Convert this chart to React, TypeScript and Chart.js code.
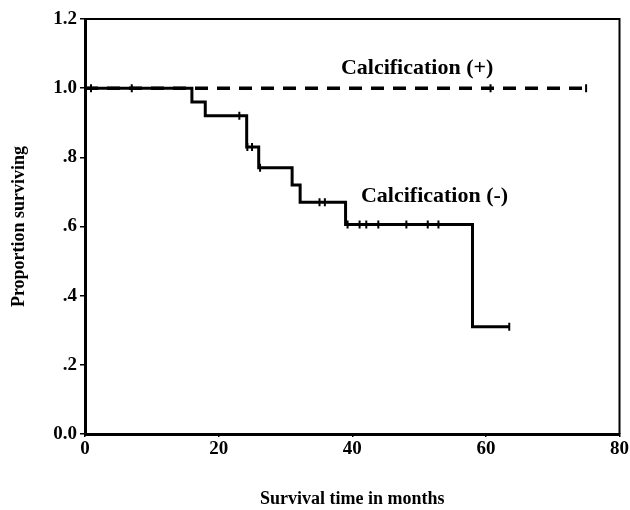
import React, { useEffect, useRef } from 'react';
import { Chart, registerables } from 'chart.js';

Chart.register(...registerables);

// Calcification (-) Kaplan-Meier steps (time in months, proportion surviving)
const negTimes = [0, 16, 18, 24.2, 26, 31, 32.2, 39, 58, 63.5];
const negSurv = [1.0, 0.96, 0.92, 0.83, 0.77, 0.72, 0.67, 0.606, 0.31, 0.31];
// Calcification (-) censored observations
const negCensorTimes = [0.9, 7, 23.1, 24.3, 25.0, 26.2, 35.1, 35.9, 39.3, 41.1, 42.1, 43.9, 48.1, 51.3, 52.9, 63.5];
const negCensorSurv = [1.0, 1.0, 0.92, 0.83, 0.83, 0.77, 0.67, 0.67, 0.606, 0.606, 0.606, 0.606, 0.606, 0.606, 0.606, 0.31];

// Calcification (+) curve
const posTimes = [0, 75];
const posSurv = [1.0, 1.0];
const posCensorTimes = [60.7, 75];
const posCensorSurv = [1.0, 1.0];

// Axis tick labels
const xTickLabels = ['0', '20', '40', '60', '80'];
const yTickLabels = ['0.0', '.2', '.4', '.6', '.8', '1.0', '1.2'];

// Curve labels and their anchors (data space)
const curveLabels = ['Calcification (+)', 'Calcification (-)'];
const curveLabelX = [38.3, 41.3];
const curveLabelY = [1.058, 0.688];

const FONT = '"Liberation Serif", "Times New Roman", serif';

const pts = (xs: number[], ys: number[]) => xs.map((x, i) => ({ x, y: ys[i] }));

const framePlugin = {
  id: 'frameAndLabels',
  afterDatasetsDraw(chart: any) {
    const { ctx, chartArea, scales } = chart;
    ctx.save();
    ctx.strokeStyle = '#000';
    ctx.lineWidth = 2;
    ctx.beginPath();
    ctx.moveTo(chartArea.left, chartArea.top);
    ctx.lineTo(chartArea.right, chartArea.top);
    ctx.lineTo(chartArea.right, chartArea.bottom);
    ctx.stroke();

    ctx.fillStyle = '#000';
    ctx.font = `bold 22px ${FONT}`;
    ctx.textAlign = 'left';
    ctx.textBaseline = 'middle';
    curveLabels.forEach((t, i) => {
      ctx.fillText(t, scales.x.getPixelForValue(curveLabelX[i]), scales.y.getPixelForValue(curveLabelY[i]));
    });
    ctx.restore();
  },
};

export default function App() {
  const ref = useRef<HTMLCanvasElement | null>(null);

  useEffect(() => {
    if (!ref.current) return;
    const censorStyle = {
      type: 'scatter' as const,
      showLine: false,
      pointStyle: 'line',
      rotation: 90,
      pointRadius: 4,
      pointBorderWidth: 2,
      borderColor: '#000',
      backgroundColor: '#000',
      pointBorderColor: '#000',
    };
    const chart = new Chart(ref.current, {
      type: 'line',
      data: {
        datasets: [
          {
            label: 'Calcification (+)',
            data: pts(posTimes, posSurv),
            stepped: 'before',
            borderColor: '#000',
            borderWidth: 3.5,
            borderDash: [13, 9],
            pointRadius: 0,
            fill: false,
            order: 3,
          },
          {
            label: 'Calcification (-)',
            data: pts(negTimes, negSurv),
            stepped: 'before',
            borderColor: '#000',
            borderWidth: 3,
            pointRadius: 0,
            fill: false,
            order: 2,
          },
          { label: 'censored (-)', data: pts(negCensorTimes, negCensorSurv), order: 1, ...censorStyle },
          { label: 'censored (+)', data: pts(posCensorTimes, posCensorSurv), order: 1, ...censorStyle },
        ] as any,
      },
      options: {
        animation: false,
        responsive: true,
        maintainAspectRatio: false,
        layout: { padding: { left: 0, right: 8, top: 19, bottom: 0 } },
        plugins: {
          legend: { display: false },
          tooltip: { enabled: false },
        },
        scales: {
          x: {
            type: 'linear',
            min: 0,
            max: 80,
            afterFit: (s: any) => { s.height = 76; },
            ticks: {
              stepSize: 20,
              color: '#000',
              font: { family: FONT, size: 19, weight: 'bold' },
              padding: 1,
              maxRotation: 0,
              callback: (_v: any, i: number) => xTickLabels[i],
            },
            grid: { drawOnChartArea: false, drawTicks: true, tickLength: 3, color: '#000', lineWidth: 1.5 },
            border: { color: '#000', width: 3 },
            title: {
              display: true,
              text: 'Survival time in months',
              color: '#000',
              font: { family: FONT, size: 18, weight: 'bold' },
              padding: { top: 0, bottom: 0 },
            },
          },
          y: {
            type: 'linear',
            min: 0,
            max: 1.2,
            afterFit: (s: any) => { s.width = 85; },
            ticks: {
              stepSize: 0.2,
              color: '#000',
              font: { family: FONT, size: 19, weight: 'bold' },
              padding: 3,
              callback: (_v: any, i: number) => yTickLabels[i],
            },
            grid: { drawOnChartArea: false, drawTicks: true, tickLength: 5, color: '#000', lineWidth: 1.5 },
            border: { color: '#000', width: 3 },
            title: {
              display: true,
              text: 'Proportion surviving',
              color: '#000',
              font: { family: FONT, size: 18, weight: 'bold' },
              padding: { top: 9, bottom: 0 },
            },
          },
        },
      } as any,
      plugins: [framePlugin],
    });
    return () => chart.destroy();
  }, []);

  return (
    <div style={{ position: 'fixed', left: 0, top: 0, width: 630, height: 510, background: '#fff' }}>
      <canvas ref={ref} />
    </div>
  );
}
